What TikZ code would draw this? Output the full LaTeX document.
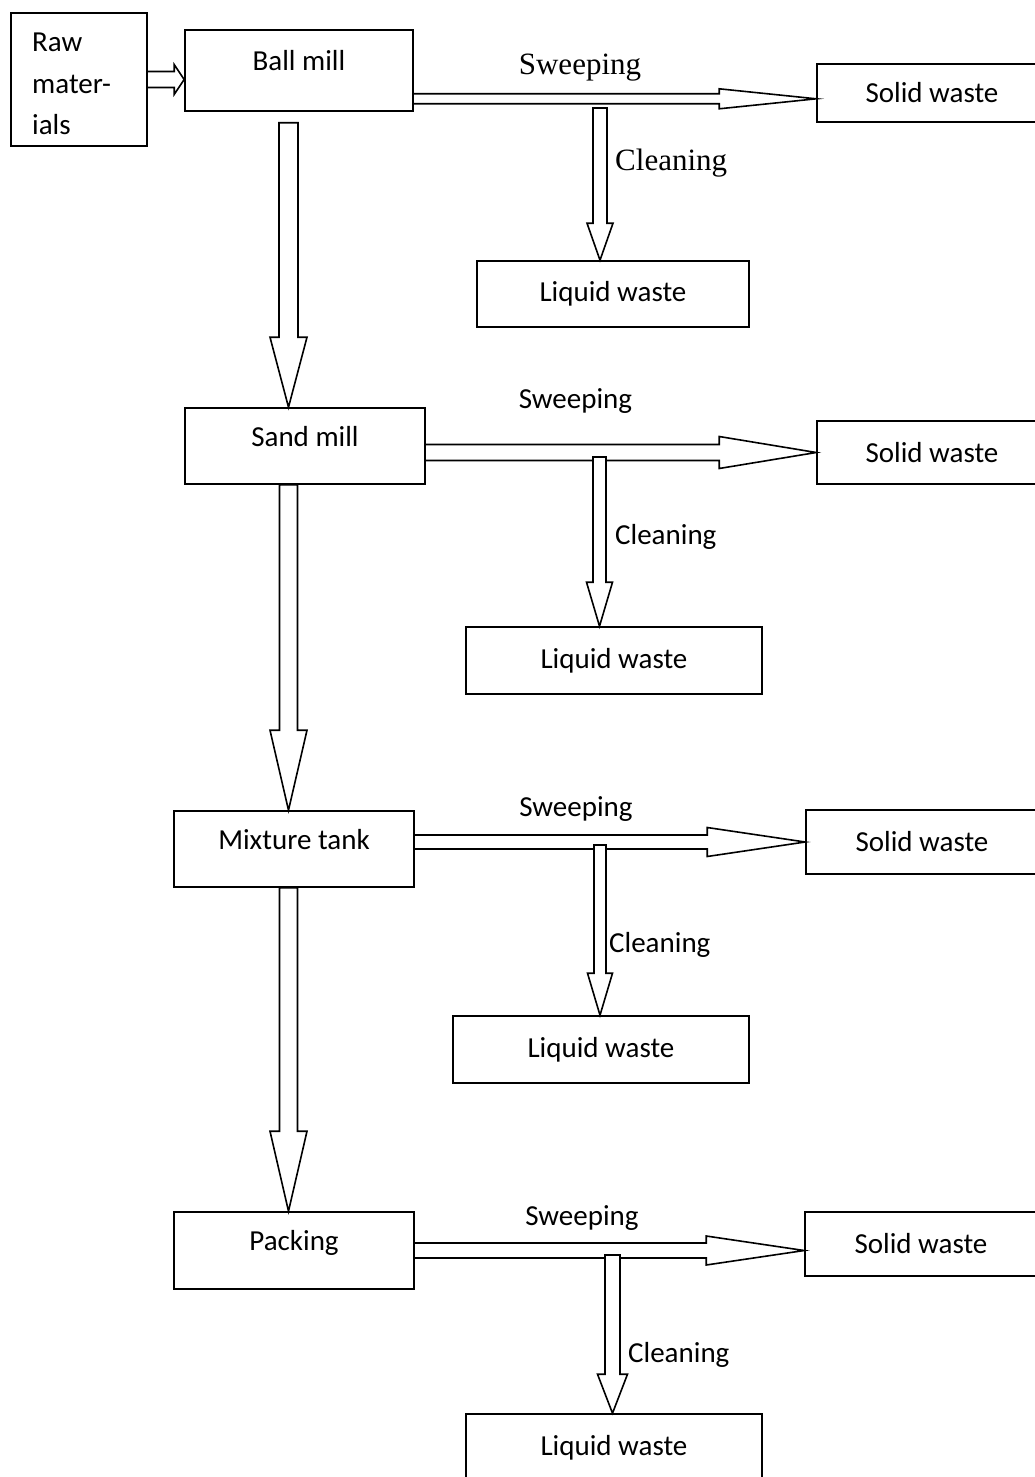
\documentclass[tikz,border=0pt]{standalone}
\usepackage{fontspec}
\setmainfont{Carlito}
\newfontfamily\seriffont{Liberation Serif}
\usetikzlibrary{calc}
% hollow block arrows: start, tip, shaft half width, head half width, head length
\newcommand{\piperight}[5]{\draw[pipe] let \p1=(#1), \p2=(#2) in (\x1,\y1+#3pt) -- (\x2-#5pt,\y1+#3pt) -- (\x2-#5pt,\y1+#4pt) -- (\x2,\y1) -- (\x2-#5pt,\y1-#4pt) -- (\x2-#5pt,\y1-#3pt) -- (\x1,\y1-#3pt);}
\newcommand{\pipedown}[5]{\draw[pipe, fill=white] let \p1=(#1), \p2=(#2) in (\x1-#3pt,\y1) -- (\x1+#3pt,\y1) -- (\x1+#3pt,\y2+#5pt) -- (\x1+#4pt,\y2+#5pt) -- (\x1,\y2) -- (\x1-#4pt,\y2+#5pt) -- (\x1-#3pt,\y2+#5pt) -- cycle;}

\begin{document}
\begin{tikzpicture}[x=1pt, y=-1pt, box/.style={draw, line width=1.6pt, inner sep=0pt, font=\fontsize{29}{41.5}\selectfont}, stagebox/.style={box, text height=0pt, text depth=0pt}, pipe/.style={draw, line width=1.6pt, line join=miter}, tag/.style={inner sep=0pt, font=\fontsize{29}{35}\selectfont}, serifnote/.style={inner sep=0pt, font=\seriffont\fontsize{31}{37}\selectfont}]
\useasboundingbox (0,0) rectangle (1035,1477);
\node[box, minimum width=136, minimum height=133] (raw) at (79,79.5) {};
\node[tag, anchor=north west, align=left, font=\fontsize{29}{41.5}\selectfont] (rawtext) at (32,33) {Raw\\mater-\\ials};
\node[stagebox, minimum width=228, minimum height=81] (ball) at (299,70.5) {Ball mill};
\node[stagebox, minimum width=240, minimum height=76] (sand) at (305,446) {Sand mill};
\node[stagebox, minimum width=240, minimum height=76] (mix) at (294,849) {Mixture tank};
\node[stagebox, minimum width=240, minimum height=77] (pack) at (294,1250.5) {Packing};
\node[box, minimum width=230, minimum height=58] (solid1) at (932,93) {Solid waste};
\node[box, minimum width=230, minimum height=63] (solid2) at (932,452.5) {Solid waste};
\node[box, minimum width=232, minimum height=64] (solid3) at (922,842) {Solid waste};
\node[box, minimum width=232, minimum height=64] (solid4) at (921,1244) {Solid waste};
\node[box, minimum width=272, minimum height=66] (liquid1) at (613,294) {Liquid waste};
\node[box, minimum width=296, minimum height=67] (liquid2) at (614,660.5) {Liquid waste};
\node[box, minimum width=296, minimum height=67] (liquid3) at (601,1049.5) {Liquid waste};
\node[box, minimum width=296, minimum height=67] (liquid4) at (614,1447.5) {Liquid waste};
% feed
\piperight{raw.east}{ball.west |- raw.east}{8}{15}{10}
% ball mill
\coordinate (sw1) at ($(ball.south east)+(0,-13)$);
\piperight{sw1}{solid1.west |- sw1}{5}{10}{97}
\coordinate (cl1) at (600,108);
\pipedown{cl1}{cl1 |- liquid1.north}{7}{13}{37}
\node[serifnote, anchor=base] (sweep1) at (580,75) {Sweeping};
\node[serifnote, anchor=base west] (clean1) at (615,170) {Cleaning};
\coordinate (mv1) at ($(ball.south)+(-10.5,11)$);
\pipedown{mv1}{mv1 |- sand.north}{9.5}{18.5}{70}
% sand mill
\piperight{sand.east |- solid2.west}{solid2.west}{8}{16}{97}
\coordinate (cl2) at (599.5,457);
\pipedown{cl2}{cl2 |- liquid2.north}{6.5}{13}{44}
\node[tag, anchor=base] (sweep2) at (575.5,408) {Sweeping};
\node[tag, anchor=base west] (clean2) at (615,544) {Cleaning};
\pipedown{sand.south -| mv1}{mix.north -| mv1}{9}{18.5}{80}
% mixture tank
\piperight{mix.east |- solid3.west}{solid3.west}{7}{14.5}{98}
\coordinate (cl3) at (600,845);
\pipedown{cl3}{cl3 |- liquid3.north}{6}{12.5}{42}
\node[tag, anchor=base] (sweep3) at (576,816) {Sweeping};
\node[tag, anchor=base west] (clean3) at (609,952) {Cleaning};
\pipedown{mix.south -| mv1}{pack.north -| mv1}{9}{18.5}{80}
% packing
\piperight{pack.east}{solid4.west |- pack.east}{7.5}{14.5}{98}
\coordinate (cl4) at (612.5,1255);
\pipedown{cl4}{cl4 |- liquid4.north}{7.5}{15}{39}
\node[tag, anchor=base] (sweep4) at (582,1225) {Sweeping};
\node[tag, anchor=base west] (clean4) at (628,1362) {Cleaning};
\end{tikzpicture}
\end{document}
